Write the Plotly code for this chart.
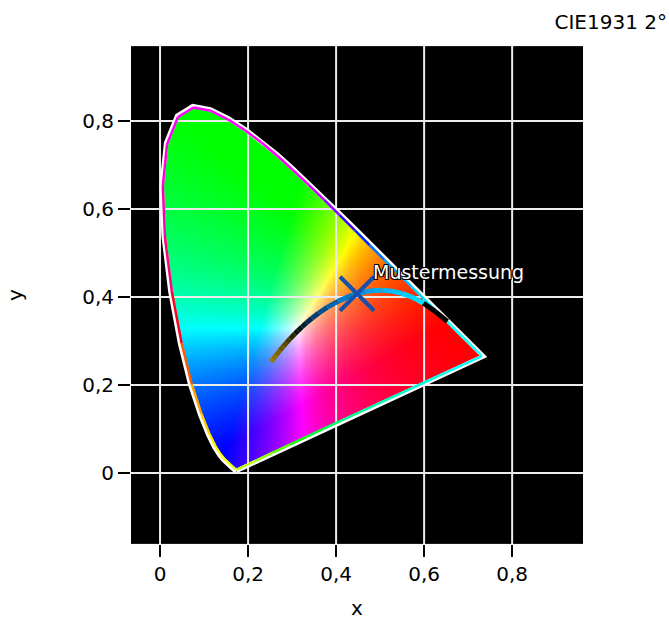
import numpy as np
import plotly.graph_objects as go

# ---------------- data ----------------
wavelength_nm = [380, 385, 390, 395, 400, 405, 410, 415, 420, 425, 430, 435, 440, 445,
                 450, 455, 460, 465, 470, 475, 480, 485, 490, 495, 500, 505, 510, 515,
                 520, 525, 530, 535, 540, 545, 550, 555, 560, 565, 570, 575, 580, 585,
                 590, 595, 600, 605, 610, 615, 620, 625, 630, 635, 640, 645, 650, 655,
                 660, 665, 670, 675, 680, 685, 690, 695, 700]
locus_x = [0.1741, 0.1740, 0.1738, 0.1736, 0.1733, 0.1730, 0.1726, 0.1721, 0.1714, 0.1703,
           0.1689, 0.1669, 0.1644, 0.1611, 0.1566, 0.1510, 0.1440, 0.1355, 0.1241, 0.1096,
           0.0913, 0.0687, 0.0454, 0.0235, 0.0082, 0.0039, 0.0139, 0.0389, 0.0743, 0.1142,
           0.1547, 0.1929, 0.2296, 0.2658, 0.3016, 0.3373, 0.3731, 0.4087, 0.4441, 0.4788,
           0.5125, 0.5448, 0.5752, 0.6029, 0.6270, 0.6482, 0.6658, 0.6801, 0.6915, 0.7006,
           0.7079, 0.7140, 0.7190, 0.7230, 0.7260, 0.7283, 0.7300, 0.7311, 0.7320, 0.7327,
           0.7334, 0.7340, 0.7344, 0.7346, 0.7347]
locus_y = [0.0050, 0.0050, 0.0049, 0.0049, 0.0048, 0.0048, 0.0048, 0.0048, 0.0051, 0.0058,
           0.0069, 0.0086, 0.0109, 0.0138, 0.0177, 0.0227, 0.0297, 0.0399, 0.0578, 0.0868,
           0.1327, 0.2007, 0.2950, 0.4127, 0.5384, 0.6548, 0.7502, 0.8120, 0.8338, 0.8262,
           0.8059, 0.7816, 0.7543, 0.7243, 0.6923, 0.6589, 0.6245, 0.5896, 0.5547, 0.5202,
           0.4866, 0.4544, 0.4242, 0.3965, 0.3725, 0.3514, 0.3340, 0.3197, 0.3083, 0.2993,
           0.2920, 0.2859, 0.2809, 0.2770, 0.2740, 0.2717, 0.2700, 0.2689, 0.2680, 0.2673,
           0.2666, 0.2660, 0.2656, 0.2654, 0.2653]

planck_cct = [25000, 20000, 15000, 12000, 10000, 9000, 8000, 7000, 6500, 6000, 5500, 5000,
              4500, 4000, 3500, 3000, 2856, 2600, 2400, 2200, 2000, 1800, 1600, 1500, 1400,
              1200, 1000]
planck_x = [0.2525, 0.2565, 0.2637, 0.2719, 0.2807, 0.2869, 0.2952, 0.3064, 0.3135, 0.3221,
            0.3325, 0.3451, 0.3608, 0.3805, 0.4053, 0.4369, 0.4476, 0.4685, 0.4862, 0.5056,
            0.5267, 0.5497, 0.5732, 0.5857, 0.5985, 0.6251, 0.6528]
planck_y = [0.2528, 0.2583, 0.2677, 0.2779, 0.2884, 0.2956, 0.3048, 0.3166, 0.3236, 0.3318,
            0.3411, 0.3516, 0.3636, 0.3768, 0.3907, 0.4041, 0.4074, 0.4123, 0.4147, 0.4152,
            0.4133, 0.4083, 0.3993, 0.3931, 0.3858, 0.3674, 0.3444]

sample_label = ["Mustermessung"]
sample_x = [0.4476]
sample_y = [0.4074]

title_text = "CIE1931 2°"
x_ticks = [0, 0.2, 0.4, 0.6, 0.8]
y_ticks = [0, 0.2, 0.4, 0.6, 0.8]
x_range = [-0.066, 0.961]
y_range = [-0.161, 0.970]

FONT = "DejaVu Sans, Verdana, sans-serif"
WHITE_PT = (0.3127, 0.3290)

# ---------------- colour helpers ----------------
M = np.array([[3.2406, -1.5372, -0.4986],
              [-0.9689, 1.8758, 0.0415],
              [0.0557, -0.2040, 1.0570]])


def fill_rgb(x, y):
    x = np.asarray(x, float)
    y = np.asarray(y, float)
    yy = np.maximum(y, 1e-4)
    XYZ = np.stack([x / yy, np.ones_like(x), (1 - x - y) / yy], -1)
    rgb = XYZ @ M.T
    rgb = np.clip(rgb, 0, None)
    rgb = rgb / np.maximum(rgb.max(-1, keepdims=True), 1e-9)
    return np.clip(np.round(rgb * 255), 0, 255)


def inside(px, py, vx, vy):
    res = np.zeros(np.shape(px), bool)
    n = len(vx)
    j = n - 1
    for i in range(n):
        xi, yi, xj, yj = vx[i], vy[i], vx[j], vy[j]
        if yi != yj:
            cond = ((yi > py) != (yj > py)) & (px < (xj - xi) * (py - yi) / (yj - yi) + xi)
            res ^= cond
        j = i
    return res


def dist_to_poly(px, py, vx, vy):
    best = 1e9
    n = len(vx)
    for i in range(n):
        ax, ay = vx[i], vy[i]
        bx, by = vx[(i + 1) % n], vy[(i + 1) % n]
        dx, dy = bx - ax, by - ay
        L = dx * dx + dy * dy
        t = 0 if L == 0 else max(0, min(1, ((px - ax) * dx + (py - ay) * dy) / L))
        d = np.hypot(px - (ax + t * dx), py - (ay + t * dy))
        best = min(best, d)
    return best


def inward(x, y, d):
    vx, vy = WHITE_PT[0] - x, WHITE_PT[1] - y
    n = np.hypot(vx, vy)
    return x + d * vx / n, y + d * vy / n


def inv_color(x, y):
    c = 255 - fill_rgb(x, y)
    return "rgb(%d,%d,%d)" % tuple(int(v) for v in c)


# ---------------- colour fill image ----------------
step = 0.0025
xs = np.arange(0.0, 0.7375 + step, step)
ys = np.arange(0.0, 0.835 + step, step)
GX, GY = np.meshgrid(xs, ys)
mask = inside(GX, GY, locus_x, locus_y)
rgb = fill_rgb(GX, GY).astype(np.uint8)
rgba = np.zeros(GX.shape + (4,), dtype=np.uint8)
rgba[..., :3] = rgb
rgba[..., 3] = mask.astype(np.uint8)

fig = go.Figure()
fig.add_trace(go.Image(z=rgba.tolist(), colormodel="rgba", x0=float(xs[0]), dx=step,
                       y0=float(ys[0]), dy=step, hoverinfo="skip"))

# grid lines (drawn over the colour fill)
gx, gy = [], []
for v in x_ticks:
    gx += [v, v, None]
    gy += [y_range[0], y_range[1], None]
for v in y_ticks:
    gx += [x_range[0], x_range[1], None]
    gy += [v, v, None]
fig.add_trace(go.Scatter(x=gx, y=gy, mode="lines", line=dict(color="#ececec", width=2),
                         hoverinfo="skip", showlegend=False))

# spectral locus: white outline
cx = locus_x + [locus_x[0]]
cy = locus_y + [locus_y[0]]
fig.add_trace(go.Scatter(x=cx, y=cy, mode="lines", line=dict(color="white", width=4.5),
                         hoverinfo="skip", showlegend=False))

# spectral locus: inverse coloured inner line
seg_x, seg_y = [], []
for i in range(len(locus_x) - 1):
    seg_x.append((locus_x[i], locus_x[i + 1]))
    seg_y.append((locus_y[i], locus_y[i + 1]))
# purple line split into pieces for the colour gradient
npur = 14
tt = np.linspace(0, 1, npur + 1)
px_line = locus_x[-1] + tt * (locus_x[0] - locus_x[-1])
py_line = locus_y[-1] + tt * (locus_y[0] - locus_y[-1])
for i in range(npur):
    seg_x.append((px_line[i], px_line[i + 1]))
    seg_y.append((py_line[i], py_line[i + 1]))

for (xa, xb), (ya, yb) in zip(seg_x, seg_y):
    ax_, ay_ = inward(xa, ya, 0.0035)
    bx_, by_ = inward(xb, yb, 0.0035)
    mx, my = inward((xa + xb) / 2, (ya + yb) / 2, 0.012)
    fig.add_trace(go.Scatter(x=[ax_, bx_], y=[ay_, by_], mode="lines",
                             line=dict(color=inv_color(mx, my), width=2.5),
                             hoverinfo="skip", showlegend=False))

# Planckian locus, coloured as inverse of the background
for i in range(len(planck_x) - 1):
    mx = (planck_x[i] + planck_x[i + 1]) / 2
    my = (planck_y[i] + planck_y[i + 1]) / 2
    if dist_to_poly(mx, my, locus_x, locus_y) < 0.009:
        col = "rgb(0,0,0)"
    else:
        col = inv_color(mx, my)
    fig.add_trace(go.Scatter(x=[planck_x[i], planck_x[i + 1]], y=[planck_y[i], planck_y[i + 1]],
                             mode="lines", line=dict(color=col, width=5),
                             hoverinfo="skip", showlegend=False))

# sample measurement marker
fig.add_trace(go.Scatter(x=sample_x, y=sample_y, mode="markers",
                         marker=dict(symbol="x-thin-open", size=34, color="rgb(22,80,170)",
                                     line=dict(color="rgb(22,80,170)", width=4)),
                         hoverinfo="skip", showlegend=False))

for lx, ly, lt in zip(sample_x, sample_y, sample_label):
    fig.add_annotation(x=lx, y=ly, text=lt, showarrow=False, xanchor="left", yanchor="middle",
                       xshift=14, yshift=22,
                       font=dict(family=FONT, size=19, color="white",
                                 shadow="-1px -1px 0 #000, 1px -1px 0 #000, -1px 1px 0 #000, 1px 1px 0 #000"))

fig.update_layout(
    width=669, height=620,
    margin=dict(l=131, r=86, t=46, b=76),
    paper_bgcolor="white", plot_bgcolor="black",
    separators=",.",
    showlegend=False,
    font=dict(family=FONT, size=20, color="black"),
    title=dict(text=title_text, x=0.997, xanchor="right", xref="container",
               y=1 - 22 / 620, yanchor="middle", yref="container",
               font=dict(family=FONT, size=20, color="black")),
    xaxis=dict(range=x_range, autorange=False, tickvals=x_ticks, ticks="outside", ticklen=12,
               tickwidth=2, tickcolor="black", showgrid=False, zeroline=False, showline=False,
               tickfont=dict(size=20), automargin=False,
               title=dict(text="x", standoff=23, font=dict(size=20)),
               scaleanchor=False, constrain="range"),
    yaxis=dict(range=y_range, autorange=False, tickvals=y_ticks, ticks="outside", ticklen=12,
               tickwidth=2, tickcolor="black", showgrid=False, zeroline=False, showline=False,
               tickfont=dict(size=20), automargin=False,
               title=dict(text="y", standoff=54, font=dict(size=20))),
)

fig.write_html("out.html", config={"displayModeBar": False},
               post_script="document.body.style.margin='0';document.body.style.overflow='hidden';")
